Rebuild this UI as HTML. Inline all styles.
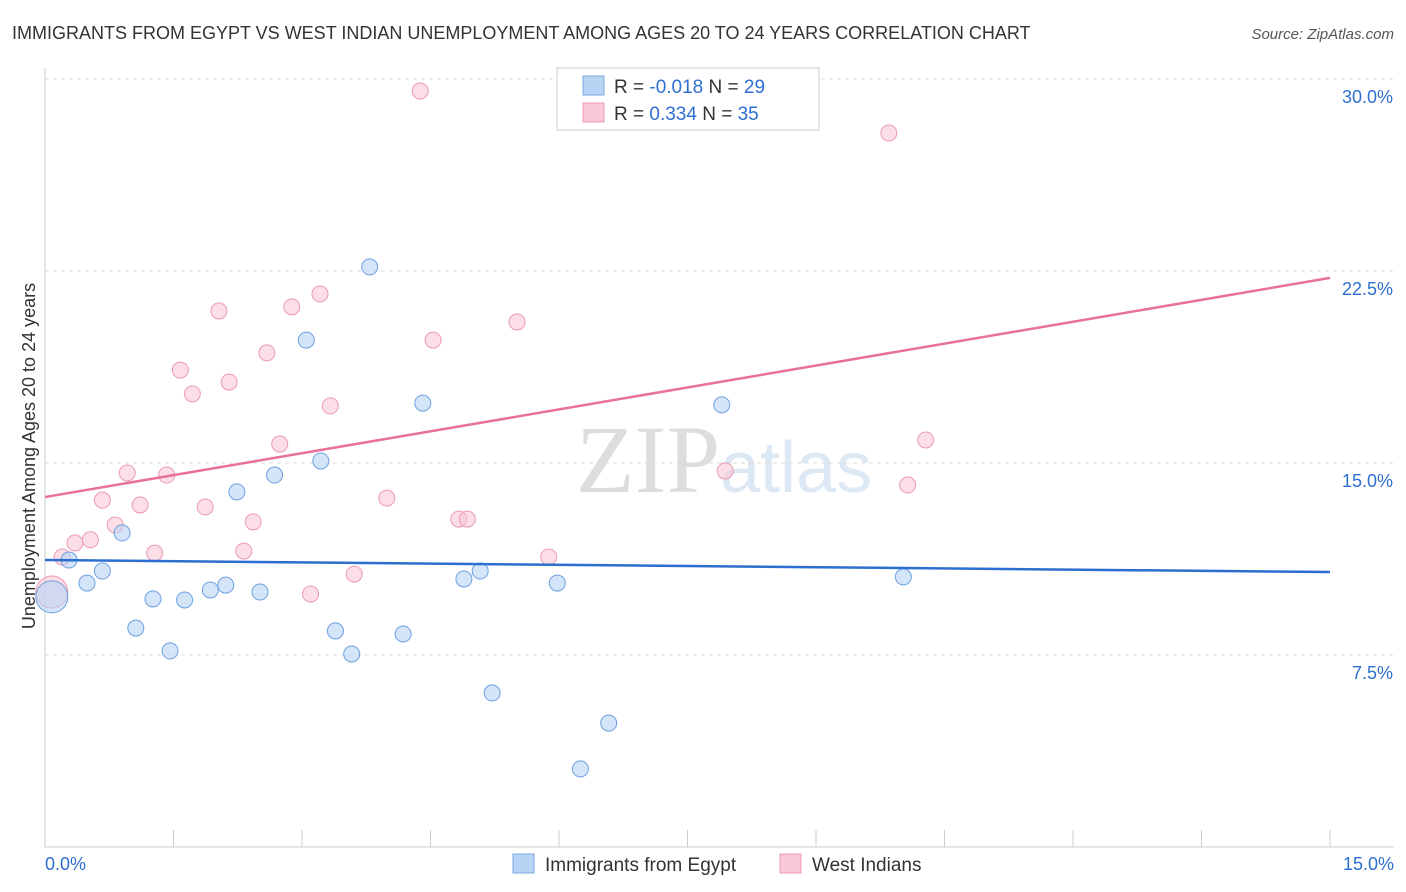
<!DOCTYPE html>
<html><head><meta charset="utf-8"><style>
body{margin:0;background:#fff;font-family:"Liberation Sans",sans-serif;}
#c{position:relative;width:1406px;height:892px;overflow:hidden}
</style></head><body><div id="c">
<svg width="1406" height="892" id="svg">
<text x="12" y="39" font-size="18" fill="#333">IMMIGRANTS FROM EGYPT VS WEST INDIAN UNEMPLOYMENT AMONG AGES 20 TO 24 YEARS CORRELATION CHART</text>
<text x="1394" y="39" font-size="15" fill="#555" text-anchor="end" font-style="italic">Source: ZipAtlas.com</text>
<text x="35" y="456" font-size="18" fill="#333" text-anchor="middle" transform="rotate(-90 35 456)">Unemployment Among Ages 20 to 24 years</text>
<text x="720" y="492" font-size="96" fill="#ddd" text-anchor="end" font-family="Liberation Serif">ZIP</text>
<text x="720" y="492" font-size="72" fill="#dde8f5">atlas</text>
<g id="grid"></g><g id="marks"></g>
<g>
<rect x="557" y="68" width="262" height="62" fill="#fff" stroke="#ccc"/>
<rect x="583" y="76" width="21" height="19" fill="#b8d4f5" stroke="#7aa8e0"/>
<rect x="583" y="103" width="21" height="19" fill="#f9c8d6" stroke="#ec9ab3"/>
<text x="614" y="93" font-size="19" fill="#333">R = <tspan fill="#2d6fd0">-0.018</tspan>   N = <tspan fill="#2d6fd0">29</tspan></text>
<text x="614" y="120" font-size="19" fill="#333">R =  <tspan fill="#2d6fd0">0.334</tspan>   N = <tspan fill="#2d6fd0">35</tspan></text>
</g>
<g>
<rect x="513" y="854" width="21" height="19" fill="#b8d4f5" stroke="#7aa8e0"/>
<text x="545" y="871" font-size="19" fill="#333">Immigrants from Egypt</text>
<rect x="780" y="854" width="21" height="19" fill="#f9c8d6" stroke="#ec9ab3"/>
<text x="812" y="871" font-size="19" fill="#333">West Indians</text>
</g>
</svg></div>
<script>
const yTicks=[7.5,15,22.5,30];
const xLabels=["0.0%","15.0%"];
const blueX=[0.08,0.28,0.49,0.67,0.9,1.06,1.26,1.46,1.63,1.93,2.11,2.24,2.51,2.68,3.05,3.22,3.39,3.58,3.79,4.18,4.41,4.89,5.08,5.22,5.98,6.25,6.58,7.9,10.02];
const blueY=[9.77,11.21,10.31,10.78,12.27,8.55,9.69,7.66,9.65,10.04,10.23,13.87,9.96,14.53,19.8,15.08,8.44,7.54,22.66,8.32,17.34,10.47,10.78,6.02,10.31,3.05,4.84,17.27,10.55];
const pinkX=[0.08,0.2,0.35,0.53,0.67,0.82,0.96,1.11,1.28,1.42,1.58,1.72,1.87,2.03,2.15,2.32,2.43,2.59,2.74,2.88,3.1,3.21,3.33,3.61,3.99,4.38,4.53,4.83,4.93,5.51,5.88,7.94,9.85,10.07,10.28];
const pinkY=[9.96,11.33,11.88,12.0,13.55,12.58,14.61,13.36,11.48,14.53,18.63,17.7,13.28,20.94,18.16,11.56,12.7,19.3,15.74,21.1,9.88,21.6,17.23,10.66,13.63,29.53,19.8,12.81,12.81,20.51,11.33,14.69,27.89,14.14,15.9];
const blueFit=[11.21,10.74];const pinkFit=[13.67,22.23];
const NS="http://www.w3.org/2000/svg";
const X=v=>45+v/15*1285, Y=v=>847-v*25.6;
function mk(t,a,p){const e=document.createElementNS(NS,t);for(const k in a)e.setAttribute(k,a[k]);p.appendChild(e);return e;}
const g=document.getElementById('grid'),m=document.getElementById('marks');
mk('line',{x1:45,y1:68,x2:45,y2:847,stroke:'#ccc'},g);
mk('line',{x1:45,y1:847,x2:1394,y2:847,stroke:'#ccc'},g);
for(let i=1;i<=10;i++){const l=mk('line',{x1:X(i*1.5),y1:830,x2:X(i*1.5),y2:847,stroke:'#ccc'},g);}
yTicks.forEach(t=>{const l=mk('line',{x1:45,y1:Y(t),x2:1394,y2:Y(t),stroke:'#ddd','stroke-dasharray':'4 4'},g);
const tx=mk('text',{x:1393,y:Y(t)+24,'font-size':18,fill:'#2d6fd0','text-anchor':'end'},g);tx.textContent=t.toFixed(1)+'%';});
const a=mk('text',{x:45,y:870,'font-size':18,fill:'#2d6fd0'},g);a.textContent=xLabels[0];
const b=mk('text',{x:1394,y:870,'font-size':18,fill:'#2d6fd0','text-anchor':'end'},g);b.textContent=xLabels[1];
function pts(xs,ys,fill,stroke,name){xs.forEach((x,i)=>{const c=mk('circle',{cx:X(x),cy:Y(ys[i]),r:i==0?16:8,fill:fill,'fill-opacity':0.6,stroke:stroke,'stroke-width':1},m);});}
pts(pinkX,pinkY,'#f9c8d6','#ec9ab3','west-indians-point');
pts(blueX,blueY,'#b8d4f5','#6d9fe0','egypt-point');
let l1=mk('line',{x1:X(0),y1:Y(blueFit[0]),x2:X(15),y2:Y(blueFit[1]),stroke:'#2d6fd0','stroke-width':2.5},m);

let l2=mk('line',{x1:X(0),y1:Y(pinkFit[0]),x2:X(15),y2:Y(pinkFit[1]),stroke:'#e8709a','stroke-width':2.5},m);

</script></body></html>
